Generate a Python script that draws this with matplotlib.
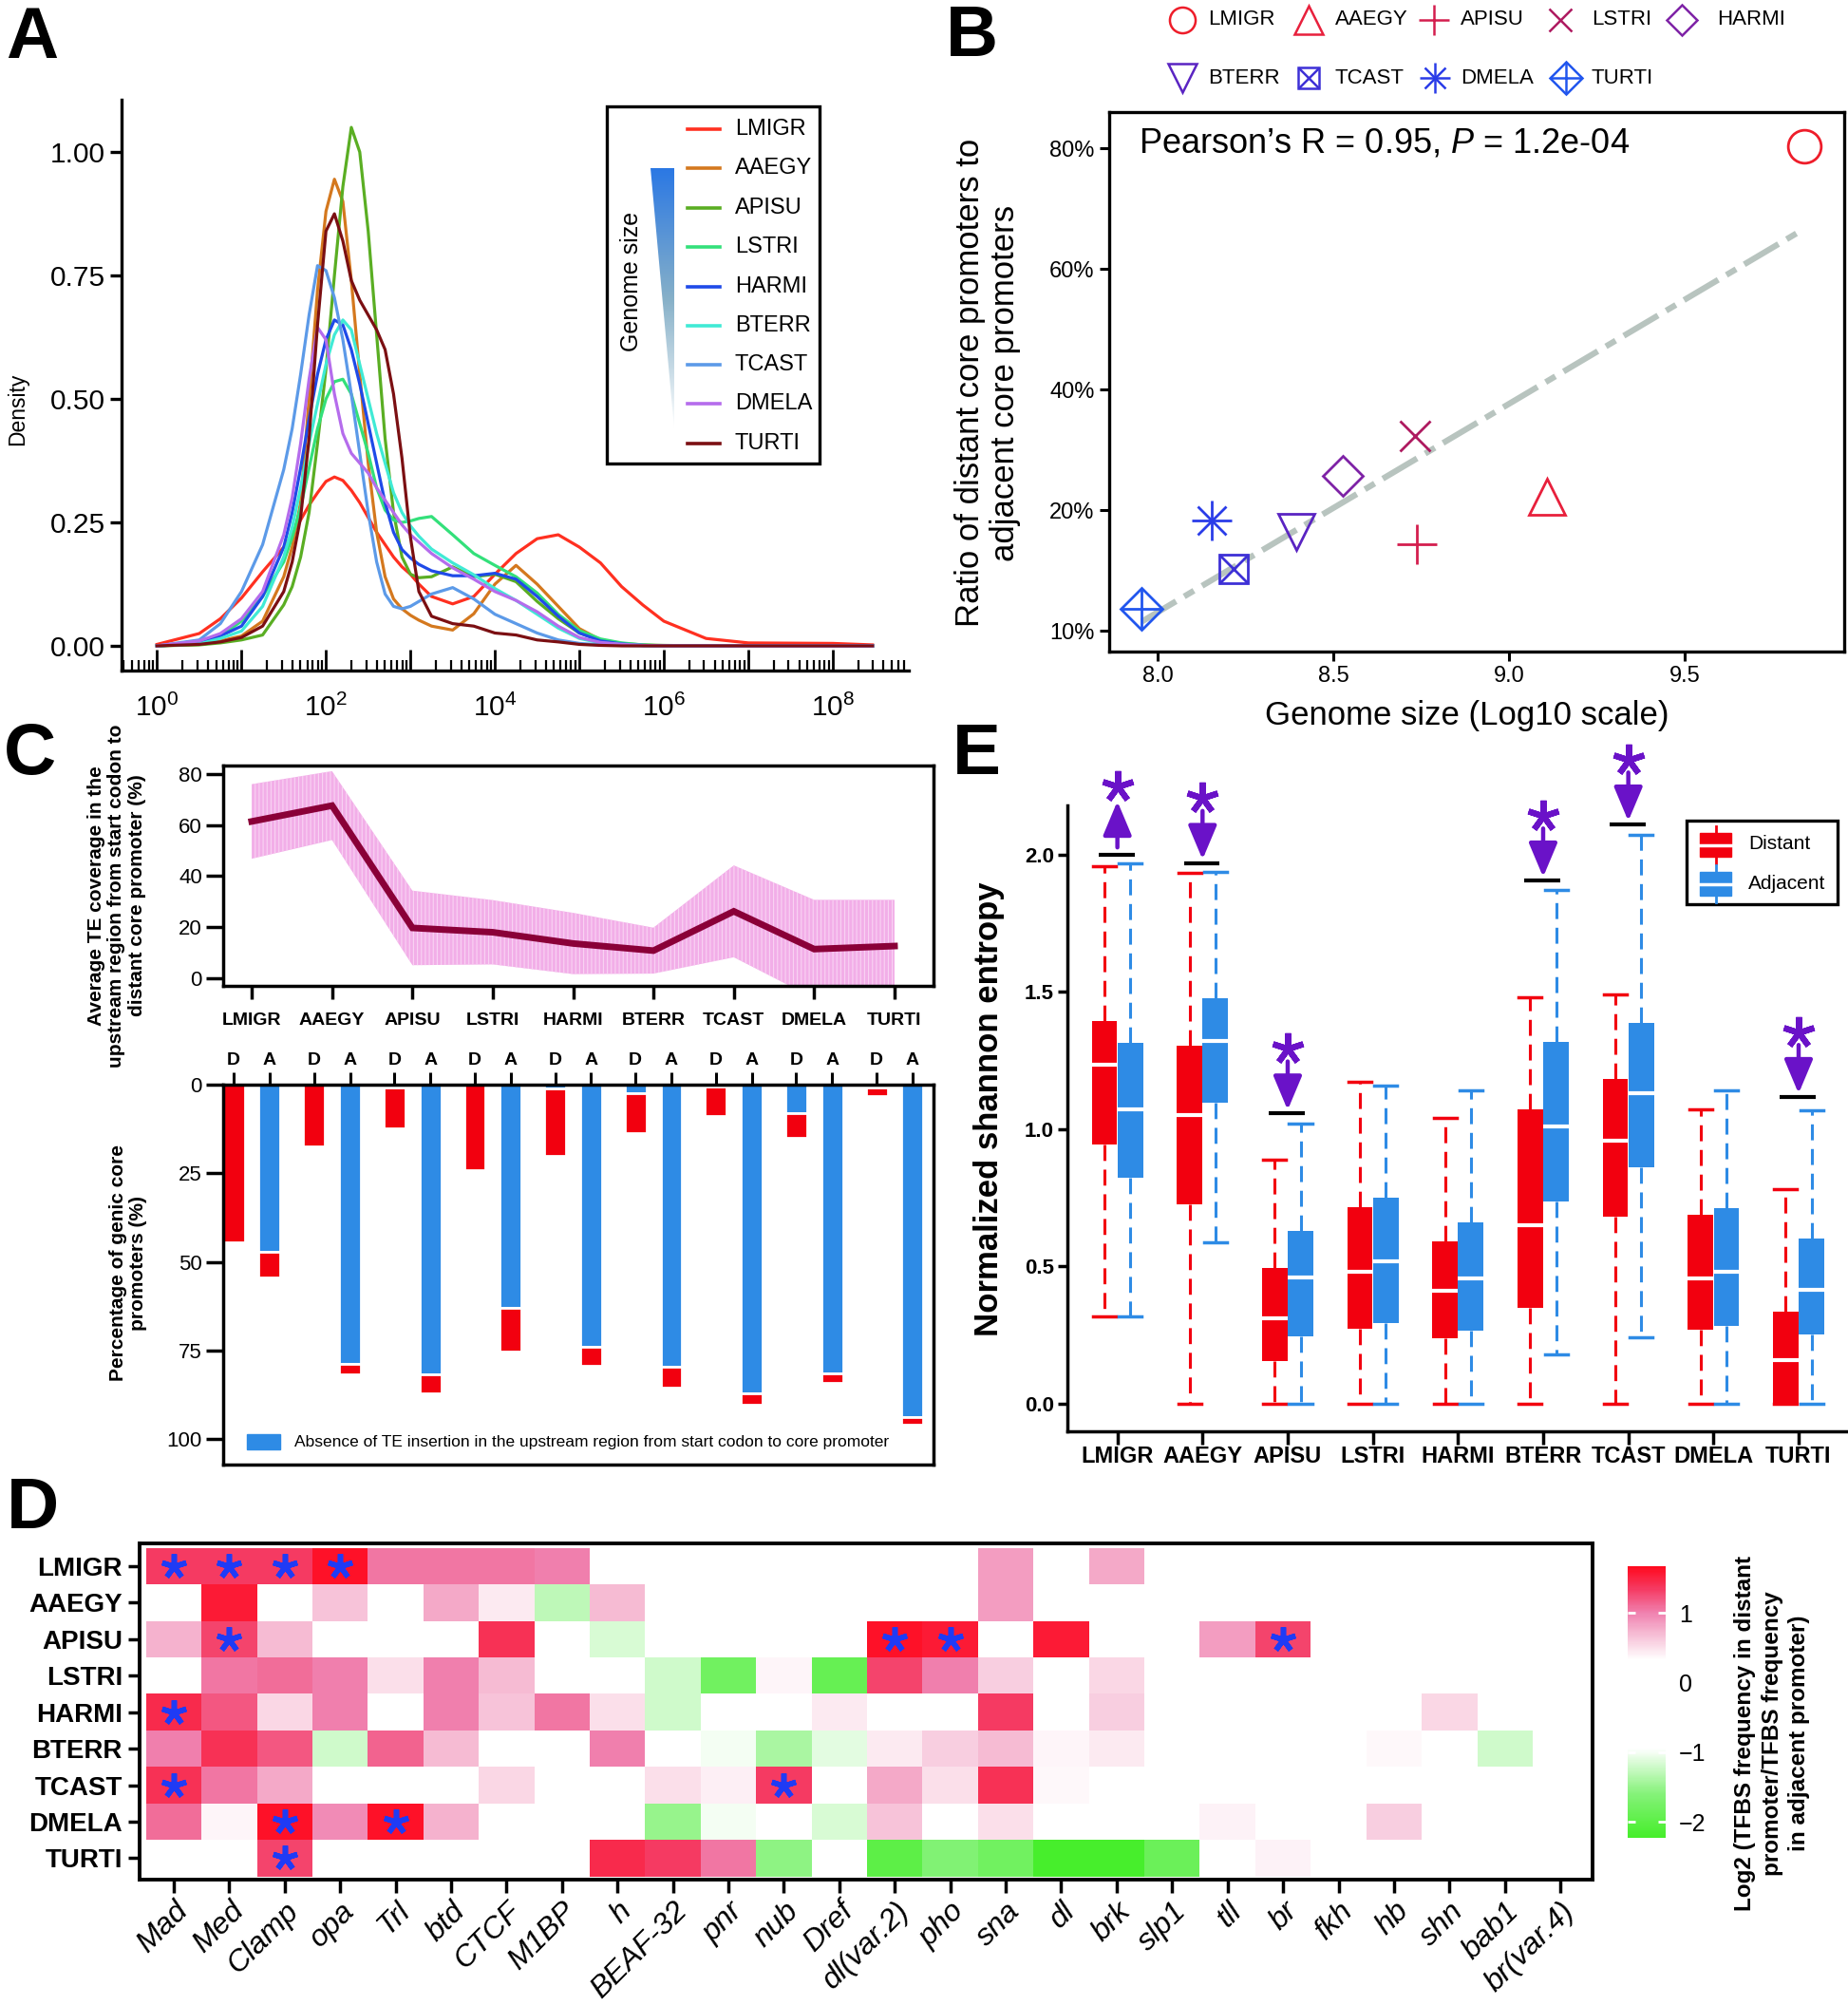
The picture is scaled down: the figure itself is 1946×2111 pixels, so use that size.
import numpy as np
import matplotlib
matplotlib.use('Agg')
import matplotlib.pyplot as plt
from matplotlib.colors import LinearSegmentedColormap
from matplotlib.patches import Rectangle, Polygon
from matplotlib.ticker import LogLocator, NullFormatter, FixedLocator, NullLocator

plt.rcParams['font.family'] = 'Liberation Sans'
plt.rcParams['mathtext.fontset'] = 'custom'
plt.rcParams['mathtext.rm'] = 'Liberation Sans'
plt.rcParams['mathtext.it'] = 'Liberation Sans:italic'
plt.rcParams['mathtext.bf'] = 'Liberation Sans:bold'
plt.rcParams['hatch.linewidth'] = 0.8

species = ['LMIGR', 'AAEGY', 'APISU', 'LSTRI', 'HARMI', 'BTERR', 'TCAST', 'DMELA', 'TURTI']

# ---- A: density of TE length (x = log10 length)
dens_log10_len = [0, 0.5, 0.75, 1.0, 1.25, 1.5, 1.6, 1.7, 1.8, 1.9, 2.0, 2.1, 2.2, 2.3, 2.4, 2.5, 2.6, 2.7, 2.8,
                  2.9, 3.0, 3.1, 3.25, 3.5, 3.75, 4.0, 4.25, 4.5, 4.75, 5.0, 5.25, 5.5, 5.75, 6.0, 6.5, 7.0, 8.0, 8.47]
dens_lmigr = [0.003, 0.025, 0.055, 0.097, 0.15, 0.2, 0.225, 0.255, 0.285, 0.31, 0.333, 0.342, 0.335, 0.315, 0.29,
              0.26, 0.23, 0.205, 0.18, 0.16, 0.145, 0.125, 0.10, 0.085, 0.10, 0.145, 0.187, 0.217, 0.225, 0.2,
              0.168, 0.12, 0.083, 0.05, 0.015, 0.006, 0.005, 0.002]
dens_aaegy = [0, 0.004, 0.01, 0.02, 0.05, 0.14, 0.2, 0.29, 0.5, 0.72, 0.88, 0.945, 0.9, 0.74, 0.55, 0.37, 0.23,
              0.14, 0.095, 0.075, 0.062, 0.052, 0.04, 0.032, 0.065, 0.125, 0.163, 0.125, 0.08, 0.035, 0.012,
              0.003, 0.001, 0, 0, 0, 0, 0]
dens_apisu = [0, 0.002, 0.006, 0.012, 0.022, 0.083, 0.12, 0.18, 0.27, 0.41, 0.56, 0.75, 0.93, 1.05, 1.0, 0.84,
              0.63, 0.42, 0.27, 0.18, 0.145, 0.138, 0.14, 0.16, 0.14, 0.145, 0.13, 0.09, 0.055, 0.026, 0.012,
              0.005, 0.002, 0.001, 0, 0, 0, 0]
dens_lstri = [0, 0.005, 0.02, 0.05, 0.1, 0.17, 0.22, 0.28, 0.36, 0.44, 0.5, 0.535, 0.54, 0.51, 0.45, 0.39, 0.32,
              0.275, 0.255, 0.25, 0.253, 0.258, 0.262, 0.225, 0.187, 0.163, 0.14, 0.107, 0.064, 0.031, 0.014,
              0.006, 0.002, 0, 0, 0, 0, 0]
dens_harmi = [0, 0.005, 0.02, 0.04, 0.1, 0.2, 0.27, 0.36, 0.46, 0.55, 0.62, 0.66, 0.65, 0.6, 0.53, 0.45, 0.37,
              0.29, 0.23, 0.195, 0.178, 0.165, 0.152, 0.142, 0.142, 0.147, 0.135, 0.10, 0.06, 0.026, 0.01,
              0.004, 0.001, 0, 0, 0, 0, 0]
dens_bterr = [0, 0.004, 0.015, 0.03, 0.08, 0.18, 0.24, 0.32, 0.41, 0.49, 0.57, 0.63, 0.66, 0.64, 0.57, 0.5, 0.43,
              0.37, 0.31, 0.27, 0.243, 0.222, 0.196, 0.168, 0.144, 0.116, 0.092, 0.064, 0.036, 0.015, 0.006,
              0.003, 0.001, 0, 0, 0, 0, 0]
dens_tcast = [0, 0.012, 0.045, 0.11, 0.205, 0.357, 0.44, 0.55, 0.67, 0.77, 0.76, 0.705, 0.62, 0.51, 0.39, 0.27,
              0.17, 0.105, 0.08, 0.075, 0.08, 0.09, 0.105, 0.118, 0.095, 0.064, 0.045, 0.026, 0.012, 0.005,
              0.002, 0.001, 0, 0, 0, 0, 0, 0]
dens_dmela = [0, 0.01, 0.025, 0.055, 0.11, 0.225, 0.3, 0.41, 0.54, 0.645, 0.62, 0.51, 0.43, 0.39, 0.37, 0.35,
              0.32, 0.295, 0.27, 0.245, 0.225, 0.21, 0.187, 0.158, 0.135, 0.11, 0.092, 0.069, 0.04, 0.017,
              0.007, 0.003, 0.001, 0, 0, 0, 0, 0]
dens_turti = [0, 0.003, 0.008, 0.017, 0.04, 0.11, 0.17, 0.26, 0.42, 0.65, 0.84, 0.875, 0.82, 0.74, 0.70, 0.67,
              0.64, 0.6, 0.51, 0.38, 0.22, 0.11, 0.06, 0.045, 0.04, 0.026, 0.022, 0.012, 0.008, 0.003, 0.001,
              0, 0, 0, 0, 0, 0, 0]
dens_colors = ['#FF3020', '#D4781E', '#5AAE23', '#33E07A', '#1F4AE8', '#40EAD5', '#5C9AE8', '#B56CEC', '#7B0F12']

# ---- B: genome size vs ratio distant/adjacent
gsize_log10 = [9.84, 9.107, 8.736, 8.731, 8.527, 8.393, 8.216, 8.154, 7.954]
ratio_pct = [80.3, 22.2, 17.2, 32.3, 25.7, 18.2, 15.1, 19.1, 11.8]
b_colors = ['#EE1D2A', '#E8203C', '#D41E4E', '#AE1A60', '#7E22A6', '#5A24C2', '#3D30D6', '#2A3CE8', '#2156EE']
b_markers = [[('o', 25)], [('^', 28)], [('+', 30)], [('x', 23)], [('D', 21.5)], [('v', 27)],
             [('s', 21), ('x', 21)], [('+', 30), ('x', 21)], [('D', 22.5), ('+', 31.5)]]

# ---- C: TE coverage and TE insertion percentages
te_cov_mean = [61.4, 67.6, 19.7, 18.0, 13.6, 10.8, 26.2, 11.4, 12.6]
te_cov_sd = [14.6, 13.5, 14.6, 12.6, 12.0, 9.0, 18.0, 19.3, 18.1]
dist_absent = [0, 0, 0.9, 0.1, 1.0, 2.3, 0.5, 8.0, 0.9]
dist_present = [44.5, 17.4, 11.4, 24.0, 19.1, 11.5, 8.4, 7.0, 2.2]
adj_absent = [47.3, 78.75, 81.7, 63.0, 73.9, 79.6, 87.2, 81.4, 93.75]
adj_present = [7.2, 2.9, 5.4, 12.3, 5.4, 5.8, 3.0, 2.7, 2.3]

# ---- E: normalized shannon entropy boxplots
dist_whislo = [0.319, 0, 0, 0, 0, 0, 0, 0, 0]
dist_q1 = [0.943, 0.726, 0.154, 0.274, 0.239, 0.35, 0.681, 0.271, 0.0]
dist_med = [1.235, 1.05, 0.31, 0.481, 0.41, 0.651, 0.959, 0.455, 0.159]
dist_q3 = [1.396, 1.306, 0.496, 0.717, 0.593, 1.071, 1.184, 0.687, 0.336]
dist_whishi = [1.959, 1.933, 0.89, 1.173, 1.041, 1.481, 1.49, 1.071, 0.782]
adj_whislo = [0.319, 0.589, 0, 0, 0, 0.18, 0.242, 0, 0]
adj_q1 = [0.823, 1.096, 0.244, 0.292, 0.265, 0.735, 0.862, 0.283, 0.251]
adj_med = [1.074, 1.322, 0.46, 0.517, 0.457, 1.009, 1.131, 0.481, 0.414]
adj_q3 = [1.315, 1.476, 0.628, 0.749, 0.66, 1.319, 1.389, 0.713, 0.602]
adj_whishi = [1.97, 1.938, 1.021, 1.159, 1.14, 1.873, 2.071, 1.14, 1.069]
sig_idx = [0, 1, 2, 5, 6, 8]
sig_level = [2.0, 1.97, 1.057, 1.906, 2.11, 1.117]
sig_up = [True, False, False, False, False, False]

# ---- D: log2 TFBS frequency ratio heatmap
tf_names = ['Mad', 'Med', 'Clamp', 'opa', 'Trl', 'btd', 'CTCF', 'M1BP', 'h', 'BEAF-32', 'pnr', 'nub', 'Dref',
            'dl(var.2)', 'pho', 'sna', 'dl', 'brk', 'slp1', 'tll', 'br', 'fkh', 'hb', 'shn', 'bab1', 'br(var.4)']
tfbs_log2 = [
    [1.35, 1.35, 1.35, 1.62, 1.05, 1.05, 1.05, 1.0, 0, 0, 0, 0, 0, 0, 0, 0.85, 0, 0.8, 0, 0, 0, 0, 0, 0, 0, 0],
    [0, 1.55, 0, 0.65, 0, 0.8, 0.45, -1.3, 0.7, 0, 0, 0, 0, 0, 0, 0.85, 0, 0, 0, 0, 0, 0, 0, 0, 0, 0],
    [0.75, 1.3, 0.7, 0, 0, 0, 1.4, 0, -1.15, 0, 0, 0, 0, 1.62, 1.55, 0, 1.55, 0, 0, 0.85, 1.3, 0, 0, 0, 0, 0],
    [0, 1.05, 1.1, 1.0, 0.5, 1.0, 0.7, 0, 0, -1.2, -1.8, 0.38, -1.9, 1.3, 1.0, 0.6, 0, 0.55, 0, 0, 0, 0, 0, 0, 0, 0],
    [1.45, 1.2, 0.55, 1.0, 0, 1.0, 0.65, 1.05, 0.5, -1.2, 0, 0, 0.45, 0, 0, 1.35, 0, 0.6, 0, 0, 0, 0, 0, 0.55, 0, 0],
    [1.0, 1.4, 1.2, -1.2, 1.15, 0.7, 0, 0, 1.0, 0, -1.0, -1.4, -1.1, 0.45, 0.6, 0.7, 0.38, 0.45, 0, 0, 0, 0, 0.37, 0, -1.2, 0],
    [1.4, 1.05, 0.8, 0, 0, 0, 0.55, 0, 0, 0.5, 0.42, 1.35, 0, 0.8, 0.5, 1.4, 0.36, 0, 0, 0, 0, 0, 0, 0, 0, 0],
    [1.1, 0.38, 1.62, 0.95, 1.62, 0.75, 0, 0, 0, -1.5, -1.0, 0, -1.15, 0.65, 0, 0.5, 0, 0, 0, 0.4, 0, 0, 0.6, 0, 0, 0],
    [0, 0, 1.3, 0, 0, 0, 0, 0, 1.45, 1.35, 1.05, -1.55, 0, -2.0, -1.65, -1.8, -2.2, -2.2, -1.85, 0, 0.4, 0, 0, 0, 0, 0],
]
sig_rows = [0, 0, 0, 0, 2, 2, 2, 2, 4, 6, 6, 7, 7, 8]
sig_cols = [0, 1, 2, 3, 1, 13, 14, 20, 0, 0, 11, 2, 4, 2]

RED = '#F2000F'
BLUE = '#2E8BE5'
PURPLE = '#6A12C8'

W, H = 1946, 2111
fig = plt.figure(figsize=(W / 100, H / 100), dpi=100)


def px_axes(l, t, r, b):
    return fig.add_axes([l / W, 1 - b / H, (r - l) / W, (b - t) / H])


# ================= A =================
ax = px_axes(128, 105, 957, 706)
xa = 10 ** np.array(dens_log10_len)
for ys, col in zip([dens_lmigr, dens_aaegy, dens_apisu, dens_lstri, dens_harmi,
                    dens_bterr, dens_tcast, dens_dmela, dens_turti], dens_colors):
    ax.plot(xa, ys, color=col, lw=2.3, solid_joinstyle='round')
ax.set_xscale('log')
ax.set_xlim(10 ** -0.42, 10 ** 8.9)
ax.set_ylim(-0.05, 1.106)
for s in ['top', 'right']:
    ax.spines[s].set_visible(False)
for s in ['left', 'bottom']:
    ax.spines[s].set_linewidth(2.4)
ax.xaxis.set_major_locator(FixedLocator([10.0 ** k for k in range(9)]))
ax.set_xticklabels(['$10^{%d}$' % k if k % 2 == 0 else '' for k in range(9)])
ax.xaxis.set_minor_locator(LogLocator(base=10, subs=np.arange(2, 10), numticks=40))
ax.xaxis.set_minor_formatter(NullFormatter())
ax.tick_params(axis='x', which='major', direction='in', length=16, width=2, labelsize=21.5, pad=18)
ax.tick_params(axis='x', which='minor', direction='in', length=8, width=1.6)
ax.set_yticks([0, 0.25, 0.5, 0.75, 1.0])
ax.set_yticklabels(['0.00', '0.25', '0.50', '0.75', '1.00'])
ax.tick_params(axis='y', length=8.5, width=2.4, labelsize=21.5, pad=4)

# ================= B =================
scale_pct = [0, 10, 20, 40, 60, 80, 100]
scale_pos = [-1, 0, 1, 2, 3, 4, 5]


def fwd(v):
    return np.interp(v, scale_pct, scale_pos)


def inv(u):
    return np.interp(u, scale_pos, scale_pct)


axb = px_axes(1168, 118, 1942, 686)
axb.set_yscale('function', functions=(fwd, inv))
gx = np.array(gsize_log10)
slope, icpt = np.polyfit(gx, fwd(np.array(ratio_pct)), 1)
fit_x = np.array([gx.min(), gx.max()])
axb.plot(fit_x, inv(slope * fit_x + icpt), color='#B8C4BF', lw=4.5,
         ls=(0, (6.7, 1.6, 1.9, 1.6)), zorder=1)
for x, y, col, mk in zip(gsize_log10, ratio_pct, b_colors, b_markers):
    for m, ms in mk:
        axb.plot(x, y, ls='none', marker=m, ms=ms, mfc='none', mec=col, mew=2, zorder=3)
axb.set_xlim(7.861, 9.954)
axb.set_ylim(inv(-0.173), inv(4.30))
axb.set_yticks([10, 20, 40, 60, 80])
axb.set_yticklabels(['10%', '20%', '40%', '60%', '80%'])
axb.yaxis.set_minor_locator(NullLocator())
axb.set_xticks([8.0, 8.5, 9.0, 9.5])
axb.set_xticklabels(['8.0', '8.5', '9.0', '9.5'])
for s in axb.spines.values():
    s.set_linewidth(2.4)
axb.tick_params(length=7, width=2.2, labelsize=17, pad=4)

# ================= C (top) =================
xpos = np.arange(len(species))
axc = px_axes(235, 806, 983, 1038)
mean = np.array(te_cov_mean)
sd = np.array(te_cov_sd)
axc.fill_between(xpos, mean - sd, mean + sd, facecolor='#F2AEE8', edgecolor='#F9D4F4',
                 hatch='||||', linewidth=0)
axc.plot(xpos, mean, color='#8A0038', lw=5, solid_joinstyle='miter')
axc.set_xlim(-0.355, 8.485)
axc.set_ylim(-3.0, 83.3)
axc.set_xticks(xpos)
axc.set_xticklabels(species, fontweight='bold', fontsize=14)
axc.set_yticks([0, 20, 40, 60, 80])
axc.tick_params(axis='x', length=10, width=2.5, pad=10)
axc.tick_params(axis='y', length=13, width=2.5, labelsize=16, pad=3)
for s in axc.spines.values():
    s.set_linewidth(2.5)

# ================= C (bottom) =================
axd = px_axes(235, 1142, 983, 1542)
off, bw = 0.223, 0.27
axd.bar(xpos - off, dist_absent, width=bw, color=BLUE, edgecolor='white', lw=2)
axd.bar(xpos - off, dist_present, bottom=dist_absent, width=bw, color=RED, edgecolor='white', lw=2)
axd.bar(xpos + off, adj_absent, width=bw, color=BLUE, edgecolor='white', lw=2)
axd.bar(xpos + off, adj_present, bottom=adj_absent, width=bw, color=RED, edgecolor='white', lw=2)
axd.set_xlim(-0.355, 8.485)
axd.set_ylim(107.2, 0)
da_pos = np.ravel(np.column_stack([xpos - off, xpos + off]))
axd.xaxis.tick_top()
axd.set_xticks(da_pos)
axd.set_xticklabels(['D', 'A'] * len(species), fontweight='bold', fontsize=14)
axd.set_yticks([0, 25, 50, 75, 100])
axd.tick_params(axis='x', length=9.4, width=2.2, pad=3)
axd.tick_params(axis='y', length=13, width=2.5, labelsize=16, pad=3)
for s in axd.spines.values():
    s.set_linewidth(2.5)

# ================= E =================
axe = px_axes(1124, 848, 1946, 1507)
stats_d = [dict(whislo=a, q1=b, med=c, q3=d, whishi=e, fliers=[])
           for a, b, c, d, e in zip(dist_whislo, dist_q1, dist_med, dist_q3, dist_whishi)]
stats_a = [dict(whislo=a, q1=b, med=c, q3=d, whishi=e, fliers=[])
           for a, b, c, d, e in zip(adj_whislo, adj_q1, adj_med, adj_q3, adj_whishi)]
for stats, pos, col in [(stats_d, xpos - 0.152, RED), (stats_a, xpos + 0.152, BLUE)]:
    axe.bxp(stats, positions=pos, widths=0.30, capwidths=0.27, patch_artist=True, showfliers=False,
            boxprops=dict(facecolor=col, edgecolor=col, lw=0),
            medianprops=dict(color='white', lw=3, solid_capstyle='butt'),
            whiskerprops=dict(color=col, lw=2.2, ls=(0, (5.5, 3))),
            capprops=dict(color=col, lw=2.5), manage_ticks=False)
for i, lvl, up in zip(sig_idx, sig_level, sig_up):
    axe.plot([i - 0.22, i + 0.2], [lvl, lvl], color='black', lw=3, solid_capstyle='butt')
    if up:
        tail, tip, star = lvl + 0.027, lvl + 0.195, lvl + 0.25
    else:
        tail, tip, star = lvl + 0.19, lvl + 0.013, lvl + 0.236
    axe.annotate('', xy=(i, tip), xytext=(i, tail), annotation_clip=False,
                 arrowprops=dict(arrowstyle='-|>,head_width=0.42,head_length=1.0', color=PURPLE,
                                 lw=3.2, shrinkA=0, shrinkB=0, mutation_scale=22))
    axe.plot(i, star, marker=(5, 2, 0), ms=24, mew=4.5, color=PURPLE, clip_on=False)
axe.set_xlim(-0.587, 8.58)
axe.set_ylim(-0.1009, 2.18)
axe.set_xticks(xpos)
axe.set_xticklabels(species, fontweight='bold', fontsize=17)
axe.set_yticks([0, 0.5, 1.0, 1.5, 2.0])
axe.set_yticklabels(['0.0', '0.5', '1.0', '1.5', '2.0'], fontweight='bold', fontsize=16)
for s in ['top', 'right']:
    axe.spines[s].set_visible(False)
for s in ['left', 'bottom']:
    axe.spines[s].set_linewidth(2.5)
axe.tick_params(axis='x', length=10, width=2.5, pad=1)
axe.tick_params(axis='y', length=7, width=2.5, pad=3)

# ================= D =================
cm_vals = np.array([-2.23, -1.6, -0.95, 0.33, 0.7, 1.0, 1.35, 1.67])
cm_cols = ['#45EE2A', '#86F27A', '#FFFFFF', '#FFFFFF', '#F6BCD4', '#F082B0', '#F53A62', '#FF0A1E']
cmap = LinearSegmentedColormap.from_list('tfbs', list(zip((cm_vals + 2.23) / 3.9, cm_cols)))
axh = px_axes(147, 1625, 1677, 1979)
mesh = axh.pcolormesh(np.arange(len(tf_names) + 1) - 0.5, np.arange(len(species) + 1) - 0.5,
                      np.array(tfbs_log2), cmap=cmap, vmin=-2.23, vmax=1.67, shading='flat')
axh.plot(sig_cols, sig_rows, ls='none', marker=(5, 2, 0), ms=19, mew=4, color='#1F3BF5')
axh.set_xlim(-0.616, 25.58)
axh.set_ylim(8.59, -0.625)
axh.set_yticks(np.arange(len(species)))
axh.set_yticklabels(species, fontweight='bold', fontsize=20)
axh.set_xticks(np.arange(len(tf_names)))
axh.set_xticklabels(tf_names, fontstyle='italic', fontsize=23, rotation=45, ha='right', va='top',
                    rotation_mode='anchor')
axh.tick_params(axis='y', length=9, width=2.5, pad=4)
axh.tick_params(axis='x', length=10, width=2.5, pad=3)
for s in axh.spines.values():
    s.set_linewidth(2.8)

cax = px_axes(1714, 1649, 1754, 1935)
cb = fig.colorbar(mesh, cax=cax)
cb.outline.set_visible(False)
cb.set_ticks([-2, -1, 0, 1])
cb.set_ticklabels(['\u22122', '\u22121', '0', '1'])
cax.tick_params(direction='in', color='white', length=6, width=2, left=True, right=True,
                labelsize=18, pad=10)

# ================= overlay (legends, labels, panel letters) =================
ov = fig.add_axes([0, 0, 1, 1])
ov.axis('off')

for letter, x, y in [('A', 6, 61), ('B', 996, 59), ('C', 4, 815), ('E', 1003, 815), ('D', 7, 1609)]:
    ov.text(x, y, letter, fontsize=55, fontweight='bold', ha='left', va='baseline')

# A labels & legend
ov.text(19, 431, 'Density', rotation=90, fontsize=16.5, ha='center', va='center')
ov.add_patch(Rectangle((639, 112), 224, 376, fill=False, lw=2.4, ec='black'))
legend_rows = [136, 177.3, 218.6, 260.3, 301.6, 342.8, 384, 425.3, 466.6]
for name, col, y in zip(species, dens_colors, legend_rows):
    ov.plot([724, 758], [y, y], color=col, lw=2.6)
    ov.text(774, y, name, fontsize=17, ha='left', va='center')
grad = np.linspace(0, 1, 256).reshape(-1, 1)
gcm = LinearSegmentedColormap.from_list('gs', ['#2B78E4', '#86B0C8', '#FFFFFF'])
im = ov.imshow(grad, cmap=gcm, extent=(685, 710, 452, 177), aspect='auto')
im.set_clip_path(Polygon([[685, 177], [710, 177], [710, 452]], closed=True, transform=ov.transData))
ov.text(665, 296, 'Genome size', rotation=90, fontsize=18, ha='center', va='center')

# B labels & legend
ov.text(1199, 151, 'Pearson\u2019s R = 0.95, $P$ = 1.2e-04', fontsize=26, ha='left', va='center')
ov.text(1040, 403, 'Ratio of distant core promoters to\nadjacent core promoters', rotation=90,
        fontsize=25, ha='center', va='center', multialignment='center', linespacing=1.15)
ov.text(1545, 754, 'Genome size (Log10 scale)', fontsize=25, ha='center', va='center')
leg_mx = [1244.5, 1378, 1510, 1643, 1770.5, 1244.5, 1378, 1511, 1649]
leg_tx = [1272, 1406, 1538, 1676, 1808, 1272, 1406, 1538, 1676]
leg_y = [21, 21, 21, 21, 21, 82, 82, 82, 82]
for name, col, mk, mx, tx, y in zip(species, b_colors, b_markers, leg_mx, leg_tx, leg_y):
    for m, ms in mk:
        ov.plot(mx, y, ls='none', marker=m, ms=ms * 0.78, mfc='none', mec=col, mew=1.8)
    ov.text(tx, y, name, fontsize=16, ha='left', va='center')

# C labels & legend
ov.text(123, 943, 'Average TE coverage in the\nupstream region from start codon to\ndistant core promoter (%)',
        rotation=90, fontsize=15, fontweight='bold', ha='center', va='center',
        multialignment='center', linespacing=1.15)
ov.text(135, 1330, 'Percentage of genic core\npromoters (%)', rotation=90, fontsize=15,
        fontweight='bold', ha='center', va='center', multialignment='center', linespacing=1.15)
ov.add_patch(Rectangle((260, 1510), 35, 16, color=BLUE))
ov.text(310, 1519, 'Absence of TE insertion in the upstream region from start codon to core promoter',
        fontsize=12.5, ha='left', va='center')

# E labels & legend
ov.text(1041, 1168, 'Normalized shannon entropy', rotation=90, fontsize=25, fontweight='bold',
        ha='center', va='center')
ov.add_patch(Rectangle((1776, 864), 159, 88, fill=False, lw=2.4, ec='black'))
for y0, col, name in [(877, RED, 'Distant'), (918, BLUE, 'Adjacent')]:
    ov.plot([1806.5, 1806.5], [y0 - 7, y0 + 32], color=col, lw=2)
    ov.add_patch(Rectangle((1790, y0), 33, 25, color=col))
    ov.plot([1790, 1823], [y0 + 12.5, y0 + 12.5], color='white', lw=2.5)
    ov.text(1841, y0 + 12, name, fontsize=15, ha='left', va='center')

# D colorbar label
ov.text(1866, 1825, 'Log2 (TFBS frequency in distant\npromoter/TFBS frequency\nin adjacent promoter)',
        rotation=90, fontsize=17.5, fontweight='bold', ha='center', va='center',
        multialignment='center', linespacing=1.3)

ov.set_xlim(0, W)
ov.set_ylim(H, 0)

fig.savefig('out.png', dpi=100)
